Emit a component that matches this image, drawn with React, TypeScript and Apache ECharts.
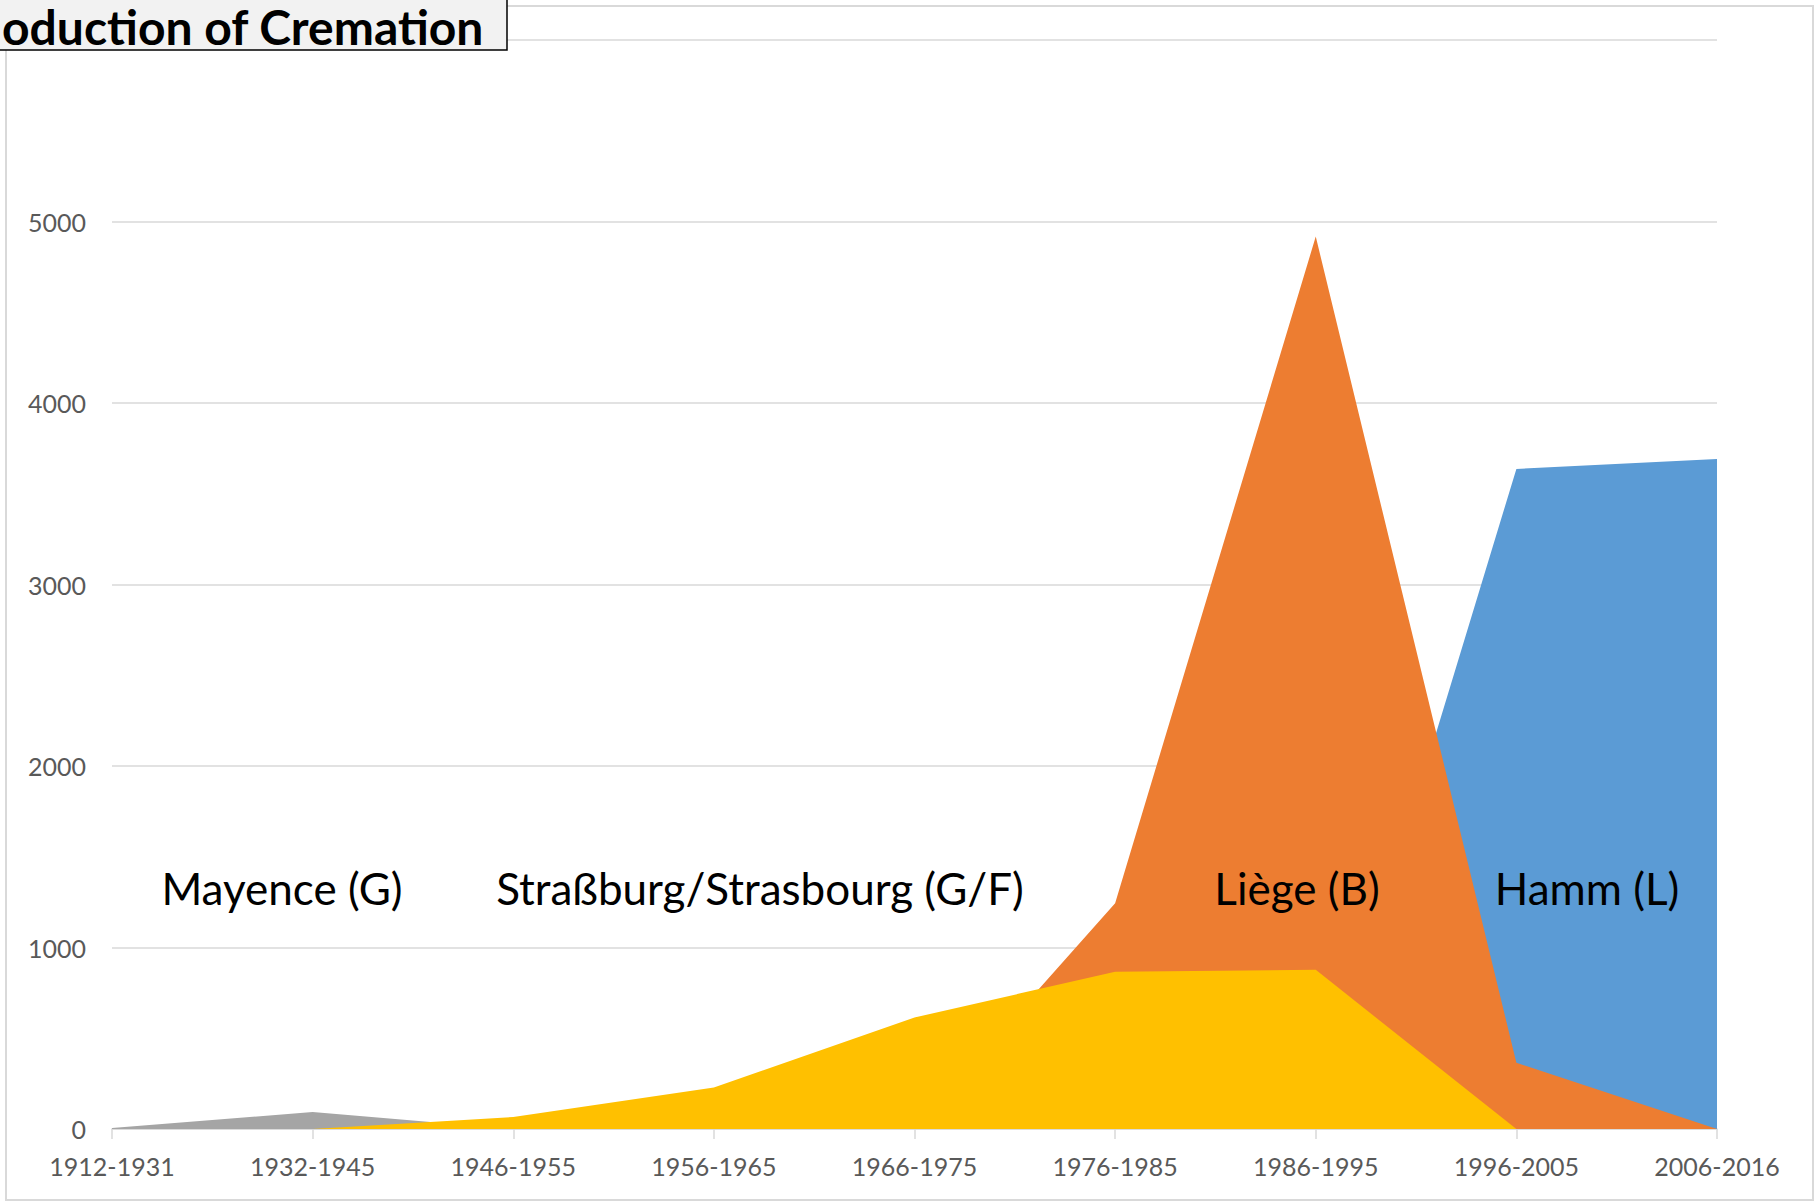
import React, { useEffect, useRef } from "react";
import * as echarts from "echarts";

const categories = [
  "1912-1931",
  "1932-1945",
  "1946-1955",
  "1956-1965",
  "1966-1975",
  "1976-1985",
  "1986-1995",
  "1996-2005",
  "2006-2016",
];

const hamm = [0, 0, 0, 0, 0, 0, 0, 3637, 3692];
const liege = [0, 0, 0, 0, 0, 1244, 4917, 365, 0];
const mayence = [5, 94, 0, 0, 0, 0, 0, 0, 0];
const strasbourg = [0, 0, 66, 229, 615, 866, 877, 0, 0];

const yTicks = { min: 0, max: 6000, interval: 1000 };

const titleText = "oduction of Cremation";

const FONT = "Lato";

export default function App() {
  const ref = useRef<HTMLDivElement>(null);

  useEffect(() => {
    if (!ref.current) return;
    const chart = echarts.init(ref.current, undefined, { renderer: "svg" });

    const areaSeries = (name: string, data: number[], color: string) => ({
      name,
      type: "line",
      data,
      showSymbol: false,
      symbol: "none",
      lineStyle: { width: 0, opacity: 0 },
      itemStyle: { color },
      areaStyle: { color, opacity: 1 },
      emphasis: { disabled: true },
    });

    chart.setOption({
      animation: false,
      backgroundColor: "#ffffff",
      grid: { left: 112, right: 99, top: 40, bottom: 74, containLabel: false },
      xAxis: {
        type: "category",
        data: categories,
        boundaryGap: false,
        axisLine: { show: true, lineStyle: { color: "#d9d9d9", width: 1.5 } },
        axisTick: { show: true, length: 10, alignWithLabel: true, lineStyle: { color: "#d9d9d9", width: 1.5 } },
        axisLabel: {
          interval: 0,
          margin: 24,
          fontSize: 25,
          fontFamily: FONT,
          color: "#595959",
        },
        splitLine: { show: false },
      },
      yAxis: {
        type: "value",
        min: yTicks.min,
        max: yTicks.max,
        interval: yTicks.interval,
        axisLine: { show: false },
        axisTick: { show: false },
        axisLabel: {
          margin: 26,
          fontSize: 25,
          fontFamily: FONT,
          color: "#595959",
          showMaxLabel: false,
          formatter: (v: number) => String(v),
        },
        splitLine: { show: true, lineStyle: { color: "#d9d9d9", width: 1.5 } },
      },
      series: [
        areaSeries("Hamm (L)", hamm, "#5b9bd5"),
        areaSeries("Liège (B)", liege, "#ed7d31"),
        areaSeries("Mayence (G)", mayence, "#a5a5a5"),
        areaSeries("Straßburg/Strasbourg (G/F)", strasbourg, "#ffc000"),
      ],
      graphic: [
        {
          type: "rect",
          z: 0,
          silent: true,
          shape: { x: 6, y: 6, width: 1807, height: 1194 },
          style: { fill: "none", stroke: "#d9d9d9", lineWidth: 2 },
        },
        {
          type: "text",
          z: 50,
          x: 282,
          y: 888,
          style: { text: "Mayence (G)", font: `44px ${FONT}`, fill: "#000", align: "center", verticalAlign: "middle" },
        },
        {
          type: "text",
          z: 50,
          x: 760,
          y: 888,
          style: { text: "Straßburg/Strasbourg (G/F)", font: `44px ${FONT}`, fill: "#000", align: "center", verticalAlign: "middle" },
        },
        {
          type: "text",
          z: 50,
          x: 1297,
          y: 888,
          style: { text: "Liège (B)", font: `44px ${FONT}`, fill: "#000", align: "center", verticalAlign: "middle" },
        },
        {
          type: "text",
          z: 50,
          x: 1587,
          y: 888,
          style: { text: "Hamm (L)", font: `44px ${FONT}`, fill: "#000", align: "center", verticalAlign: "middle" },
        },
        {
          type: "rect",
          z: 60,
          silent: true,
          shape: { x: -10, y: -10, width: 517, height: 60 },
          style: { fill: "#f2f2f2", stroke: "#000000", lineWidth: 1.5 },
        },
        {
          type: "text",
          z: 61,
          x: 2,
          y: 2,
          style: { text: titleText, font: `bold 48px ${FONT}`, fill: "#000", align: "left", verticalAlign: "top" },
        },
      ],
    });

    return () => chart.dispose();
  }, []);

  return (
    <div
      ref={ref}
      style={{ position: "absolute", left: 0, top: 0, width: 1816, height: 1203 }}
    />
  );
}
